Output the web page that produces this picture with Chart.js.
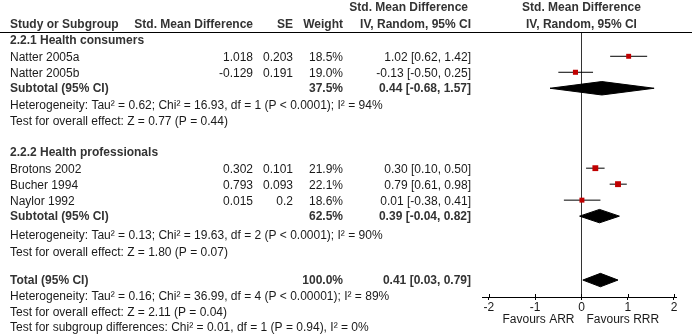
<!DOCTYPE html>
<html>
<head>
<meta charset="utf-8">
<script src="https://cdn.jsdelivr.net/npm/chart.js@4.4.1/dist/chart.umd.min.js"></script>
<style>
  html, body { margin: 0; padding: 0; background: #fff; }
  #wrap { width: 692px; height: 336px; position: relative; }
</style>
</head>
<body>
<div id="wrap"><canvas id="forest"></canvas></div>
<script>
// Study level data
const groupNames = ["2.2.1 Health consumers", "2.2.2 Health professionals"];
const groupRows = [1, 8];
const studyNames = ["Natter 2005a", "Natter 2005b", "Brotons 2002", "Bucher 1994", "Naylor 1992"];
const studyRows = [2, 3, 9, 10, 11];
const smd = [1.018, -0.129, 0.302, 0.793, 0.015];
const se = [0.203, 0.191, 0.101, 0.093, 0.2];
const weights = [18.5, 19.0, 21.9, 22.1, 18.6];
const est = [1.02, -0.13, 0.30, 0.79, 0.01];
const ciLow = [0.62, -0.50, 0.10, 0.61, -0.38];
const ciHigh = [1.42, 0.25, 0.50, 0.98, 0.41];

// Pooled estimates (subtotals + total)
const pooledNames = ["Subtotal (95% CI)", "Subtotal (95% CI)", "Total (95% CI)"];
const pooledRows = [4, 12, 16];
const pooledWeights = [37.5, 62.5, 100.0];
const pooledEst = [0.44, 0.39, 0.41];
const pooledLow = [-0.68, -0.04, 0.03];
const pooledHigh = [1.57, 0.82, 0.79];

// Footnote lines
const notes = [
  "Heterogeneity: Tau\u00b2 = 0.62; Chi\u00b2 = 16.93, df = 1 (P < 0.0001); I\u00b2 = 94%",
  "Test for overall effect: Z = 0.77 (P = 0.44)",
  "Heterogeneity: Tau\u00b2 = 0.13; Chi\u00b2 = 19.63, df = 2 (P < 0.0001); I\u00b2 = 90%",
  "Test for overall effect: Z = 1.80 (P = 0.07)",
  "Heterogeneity: Tau\u00b2 = 0.16; Chi\u00b2 = 36.99, df = 4 (P < 0.00001); I\u00b2 = 89%",
  "Test for overall effect: Z = 2.11 (P = 0.04)",
  "Test for subgroup differences: Chi\u00b2 = 0.01, df = 1 (P = 0.94), I\u00b2 = 0%"
];
const noteRows = [5.1, 6.1, 13.25, 14.3, 17.05, 18.05, 19.0];

const xTicks = [-2, -1, 0, 1, 2];
const xMin = -2.15;
const xMax = 2.065;
const favours = ["Favours ARR", "Favours RRR"];

const FONT = '"Liberation Sans", Arial, sans-serif';
const RED = "#c00000";
const DIAMOND_H = 0.42; // half height in rows

function ciText(e, lo, hi) {
  return `${e.toFixed(2)} [${lo.toFixed(2)}, ${hi.toFixed(2)}]`;
}

// Datasets
const squareSet = {
  label: "studies",
  data: est.map((e, i) => ({ x: e, y: studyRows[i] })),
  pointStyle: "rect",
  pointRadius: weights.map((w) => w / 5.3),
  pointBackgroundColor: RED,
  pointBorderWidth: 0,
  showLine: false,
};

const whiskerSets = est.map((e, i) => ({
  label: "ci " + studyNames[i],
  data: [
    { x: ciLow[i], y: studyRows[i] },
    { x: ciHigh[i], y: studyRows[i] },
  ],
  showLine: true,
  borderColor: "#000",
  borderWidth: 1,
  pointRadius: 0,
}));

const diamondSets = pooledEst.map((e, i) => {
  const r = pooledRows[i];
  return {
    label: pooledNames[i],
    data: [
      { x: pooledLow[i], y: r },
      { x: e, y: r - DIAMOND_H },
      { x: pooledHigh[i], y: r },
      { x: e, y: r + DIAMOND_H },
      { x: pooledLow[i], y: r },
    ],
    showLine: true,
    fill: "shape",
    borderColor: "#000",
    backgroundColor: "#000",
    borderWidth: 1,
    pointRadius: 0,
    tension: 0,
  };
});

// Table text, header rule, axis line, tick stubs and favours labels
const tablePlugin = {
  id: "forestTable",
  afterDraw(chart) {
    const ctx = chart.ctx;
    const xs = chart.scales.x;
    const ys = chart.scales.y;
    const rowY = (r) => ys.getPixelForValue(r) + 1.5;
    const col = { name: 10, smd: 253, se: 293, weight: 343, ci: 471 };

    ctx.save();
    ctx.textBaseline = "middle";

    // header
    ctx.font = "bold 12px " + FONT;
    ctx.fillStyle = "#333";
    ctx.textAlign = "left";
    ctx.fillText("Study or Subgroup", col.name, 25);
    ctx.textAlign = "right";
    ctx.fillText("Std. Mean Difference", col.smd, 25);
    ctx.fillText("SE", col.se, 25);
    ctx.fillText("Weight", col.weight, 25);
    ctx.fillText("Std. Mean Difference", 468, 8);
    ctx.fillText("IV, Random, 95% CI", col.ci, 25);
    ctx.textAlign = "center";
    const zx = xs.getPixelForValue(0);
    ctx.fillText("Std. Mean Difference", zx, 8);
    ctx.fillText("IV, Random, 95% CI", zx, 25);

    // header rule
    ctx.strokeStyle = "#000";
    ctx.lineWidth = 1;
    ctx.beginPath();
    ctx.moveTo(0, 32.5);
    ctx.lineTo(chart.width, 32.5);
    ctx.stroke();

    // subgroup titles
    ctx.textAlign = "left";
    groupNames.forEach((g, i) => ctx.fillText(g, col.name, ys.getPixelForValue(groupRows[i])));

    // pooled rows
    pooledNames.forEach((n, i) => {
      const y = ys.getPixelForValue(pooledRows[i]) + 0.5;
      ctx.textAlign = "left";
      ctx.fillText(n, col.name, y);
      ctx.textAlign = "right";
      ctx.fillText(pooledWeights[i].toFixed(1) + "%", col.weight, y);
      ctx.fillText(ciText(pooledEst[i], pooledLow[i], pooledHigh[i]), col.ci, y);
    });

    // study rows
    ctx.font = "12px " + FONT;
    ctx.fillStyle = "#1a1a1a";
    studyNames.forEach((n, i) => {
      const y = rowY(studyRows[i]);
      ctx.textAlign = "left";
      ctx.fillText(n, col.name, y);
      ctx.textAlign = "right";
      ctx.fillText(smd[i].toFixed(3), col.smd, y);
      ctx.fillText(String(se[i]), col.se, y);
      ctx.fillText(weights[i].toFixed(1) + "%", col.weight, y);
      ctx.fillText(ciText(est[i], ciLow[i], ciHigh[i]), col.ci, y);
    });

    // notes
    ctx.textAlign = "left";
    notes.forEach((t, i) => ctx.fillText(t, col.name, ys.getPixelForValue(noteRows[i])));

    // axis line and tick stubs above it
    const by = Math.round(chart.chartArea.bottom) + 0.5;
    ctx.beginPath();
    ctx.moveTo(Math.round(xs.getPixelForValue(xMin)), by);
    ctx.lineTo(Math.round(xs.getPixelForValue(xMax)), by);
    xTicks.forEach((v) => {
      const px = Math.round(xs.getPixelForValue(v)) + 0.5;
      ctx.moveTo(px, by - 3.5);
      ctx.lineTo(px, by);
    });
    ctx.stroke();

    // favours labels
    ctx.textAlign = "right";
    ctx.fillText(favours[0], zx - 7, 320);
    ctx.textAlign = "left";
    ctx.fillText(favours[1], zx + 5, 320);

    ctx.restore();
  },
};

new Chart(document.getElementById("forest"), {
  type: "scatter",
  data: {
    datasets: [squareSet, ...whiskerSets, ...diamondSets],
  },
  options: {
    responsive: true,
    maintainAspectRatio: false,
    animation: false,
    layout: {
      padding: { left: 482, right: 15, top: 32, bottom: 21.6 },
    },
    plugins: {
      legend: { display: false },
      tooltip: { enabled: false },
    },
    scales: {
      x: {
        type: "linear",
        min: xMin,
        max: xMax,
        afterBuildTicks: (axis) => {
          axis.ticks = xTicks.map((v) => ({ value: v }));
        },
        ticks: {
          color: "#1a1a1a",
          padding: 0,
          font: { family: FONT, size: 12 },
          maxRotation: 0,
        },
        grid: {
          color: (c) => (c.tick && c.tick.value === 0 ? "#333" : "rgba(0,0,0,0)"),
          tickColor: "#000",
          tickLength: 3,
          lineWidth: 1,
        },
        border: { display: false },
      },
      y: {
        type: "linear",
        min: 0.48,
        max: 17.06,
        reverse: true,
        display: false,
      },
    },
  },
  plugins: [tablePlugin],
});
</script>
</body>
</html>
